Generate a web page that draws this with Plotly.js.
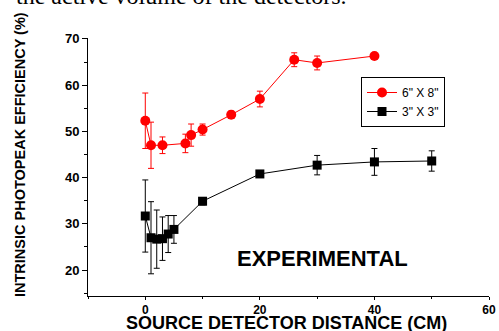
<!DOCTYPE html>
<html><head><meta charset="utf-8">
<script src="https://cdn.plot.ly/plotly-3.0.1.min.js"></script>
<style>html,body{margin:0;padding:0;background:#fff}#c{width:499px;height:331px}</style>
</head><body><div id="c"></div>
<script>
const redX = [0, 1, 3, 7, 8, 10, 15, 20, 26, 30, 40];
const redY = [52.3, 47, 47, 47.4, 49.2, 50.4, 53.6, 57, 65.5, 64.8, 66.3];
const redErr = [6, 5, 1.8, 2, 2.4, 1.2, 0.8, 1.7, 1.5, 1.5, 0.6];
const blkX = [0, 1, 2, 3, 4, 5, 10, 20, 30, 40, 50];
const blkY = [31.7, 27, 26.7, 26.8, 27.8, 28.8, 34.9, 40.8, 42.7, 43.4, 43.6];
const blkErr = [7.8, 7.8, 6.3, 4.7, 4, 3, 0.8, 0.6, 2.1, 2.9, 2.2];
const names = ['6" X 8"', '3" X 3"'];
const xTitle = 'SOURCE DETECTOR DISTANCE (CM)';
const yTitle = 'INTRINSIC PHOTOPEAK EFFICIENCY (%)';
const F = 'Liberation Sans, Arial, sans-serif';

const traces = [
  {x: redX, y: redY, name: names[0], mode: 'lines+markers', type: 'scatter',
   line: {color: '#ff0000', width: 1}, marker: {symbol: 'circle', size: 10, color: '#ff0000'},
   error_y: {type: 'data', array: redErr, visible: true, color: '#ff0000', thickness: 1, width: 3}},
  {x: blkX, y: blkY, name: names[1], mode: 'lines+markers', type: 'scatter',
   line: {color: '#000000', width: 1}, marker: {symbol: 'square', size: 9, color: '#000000'},
   error_y: {type: 'data', array: blkErr, visible: true, color: '#000000', thickness: 1, width: 3}}
];

const layout = {
  width: 499, height: 331,
  margin: {l: 88, r: 10, t: 38, b: 35},
  paper_bgcolor: '#fff', plot_bgcolor: '#fff',
  showlegend: true,
  legend: {x: (361 - 88) / 401, y: (296 - 77) / 258, xanchor: 'left', yanchor: 'top',
    bordercolor: '#000', borderwidth: 1, bgcolor: '#fff',
    font: {family: F, size: 12, color: '#000'}, tracegroupgap: 0, itemwidth: 30},
  xaxis: {range: [-10, 60], tick0: 0, dtick: 20, ticks: 'outside', ticklen: 3, tickwidth: 1,
    tickcolor: '#000', showline: true, linecolor: '#000', linewidth: 1, showgrid: false, zeroline: false,
    minor: {dtick: 10, ticks: 'outside', ticklen: 2, tickcolor: '#000'},
    tickfont: {family: F, size: 12, color: '#000', weight: 'bold'}},
  yaxis: {range: [14.4, 70.2], tick0: 20, dtick: 10, ticks: 'outside', ticklen: 5, tickwidth: 1,
    tickcolor: '#000', showline: true, linecolor: '#000', linewidth: 1, showgrid: false, zeroline: false,
    minor: {dtick: 5, ticks: 'outside', ticklen: 3, tickcolor: '#000'},
    tickfont: {family: F, size: 13, color: '#000', weight: 'bold'}},
  annotations: [
    {text: xTitle, xref: 'paper', yref: 'paper', x: (286 - 88) / 401, y: (296 - 323) / 258,
     xanchor: 'center', yanchor: 'middle', showarrow: false,
     font: {family: F, size: 18, color: '#000', weight: 'bold'}},
    {text: yTitle, xref: 'paper', yref: 'paper', x: (20 - 88) / 401, y: (296 - 155) / 258,
     xanchor: 'center', yanchor: 'middle', textangle: -90, showarrow: false,
     font: {family: F, size: 14.5, color: '#000', weight: 'bold'}},
    {text: 'EXPERIMENTAL', xref: 'x', yref: 'y', x: 31, y: 22.6, showarrow: false,
     font: {family: F, size: 22, color: '#000', weight: 'bold'}},
    {text: 'the active volume of the detectors.', xref: 'paper', yref: 'paper',
     x: (349 - 88) / 401, y: (296 + 4) / 258, xanchor: 'right', yanchor: 'middle', showarrow: false,
     font: {family: 'Liberation Serif, Times New Roman, serif', size: 24, color: '#000'}}
  ]
};
Plotly.newPlot('c', traces, layout, {displayModeBar: false, staticPlot: true});
</script></body></html>
